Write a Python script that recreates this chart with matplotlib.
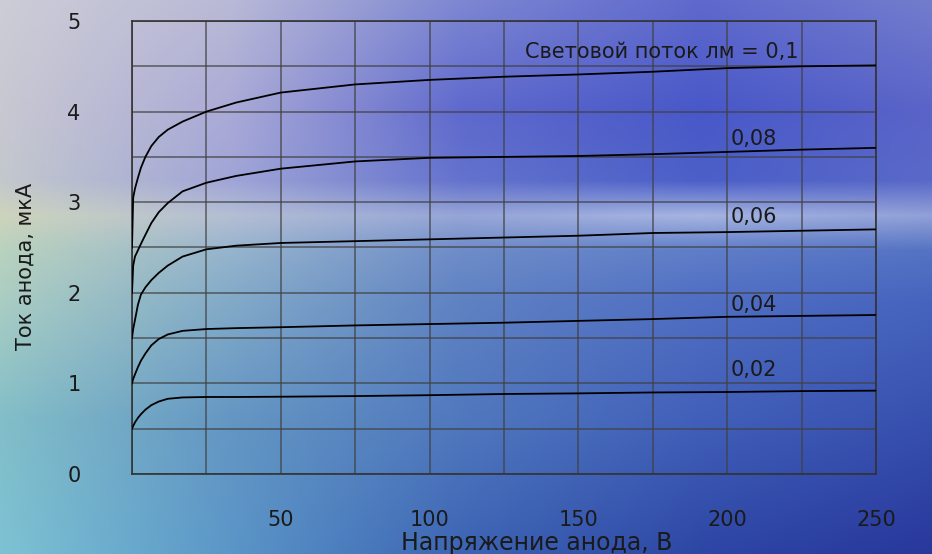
import numpy as np
import matplotlib
matplotlib.use("Agg")
import matplotlib.pyplot as plt

# anode voltage, V
voltage = [0, 0.4, 1, 2, 3, 4.5, 6.5, 9, 12, 17, 25, 35, 50, 75, 100, 125, 150, 175, 200, 225, 250]

# anode current, uA, for each luminous flux
current_010 = [2.5, 3.05, 3.15, 3.27, 3.38, 3.50, 3.62, 3.72, 3.80, 3.89, 4.00, 4.10, 4.21, 4.30,
               4.35, 4.385, 4.41, 4.44, 4.48, 4.50, 4.51]
current_008 = [2.0, 2.30, 2.40, 2.47, 2.54, 2.64, 2.77, 2.89, 2.99, 3.12, 3.215, 3.29, 3.37, 3.45,
               3.49, 3.50, 3.51, 3.53, 3.555, 3.58, 3.60]
current_006 = [1.5, 1.60, 1.70, 1.87, 1.98, 2.06, 2.14, 2.22, 2.30, 2.40, 2.48, 2.52, 2.55, 2.57,
               2.59, 2.61, 2.63, 2.66, 2.67, 2.685, 2.70]
current_004 = [1.0, 1.05, 1.10, 1.18, 1.25, 1.33, 1.42, 1.49, 1.54, 1.58, 1.60, 1.61, 1.62, 1.64,
               1.655, 1.67, 1.69, 1.71, 1.735, 1.745, 1.755]
current_002 = [0.5, 0.53, 0.57, 0.62, 0.66, 0.71, 0.76, 0.80, 0.83, 0.845, 0.85, 0.85, 0.853, 0.86,
               0.87, 0.883, 0.89, 0.90, 0.905, 0.915, 0.92]

curves = [current_010, current_008, current_006, current_004, current_002]
flux_labels = ["Световой поток лм = 0,1", "0,08", "0,06", "0,04", "0,02"]
label_pos = [(178, 4.66), (201, 3.70), (201, 2.84), (201, 1.865), (201, 1.148)]

x_ticks = [50, 100, 150, 200, 250]
y_ticks = [0, 1, 2, 3, 4, 5]

W, H = 932, 554
fig = plt.figure(figsize=(W / 100, H / 100), dpi=100)

# sky / sea backdrop
rows = np.array([0, 110, 180, 215, 250, 300, 420, 554])
cols = np.array([0, 230, 460, 700, 932])
anchors = np.array([
    [(205, 205, 215), (185, 185, 215), (125, 135, 210), (95, 105, 205), (115, 125, 205)],
    [(200, 200, 210), (170, 170, 215), (95, 105, 205), (72, 88, 200), (90, 100, 200)],
    [(195, 200, 205), (160, 165, 215), (100, 115, 205), (75, 95, 200), (90, 105, 200)],
    [(205, 212, 188), (180, 190, 212), (150, 165, 215), (165, 180, 225), (145, 160, 215)],
    [(185, 210, 190), (150, 180, 205), (110, 140, 200), (95, 125, 200), (85, 115, 195)],
    [(170, 205, 195), (130, 170, 200), (95, 130, 195), (80, 110, 195), (70, 100, 190)],
    [(130, 190, 200), (100, 150, 195), (80, 120, 190), (65, 95, 185), (55, 80, 175)],
    [(125, 195, 212), (90, 150, 200), (60, 100, 180), (45, 70, 165), (40, 55, 155)],
], dtype=float) / 255.0
yy = np.arange(H)
xx = np.arange(W)
tmp = np.empty((H, len(cols), 3))
for j in range(len(cols)):
    for c in range(3):
        tmp[:, j, c] = np.interp(yy, rows, anchors[:, j, c])
bg = np.empty((H, W, 3))
for i in range(H):
    for c in range(3):
        bg[i, :, c] = np.interp(xx, cols, tmp[i, :, c])
bg_ax = fig.add_axes([0, 0, 1, 1], zorder=-1)
bg_ax.imshow(bg, aspect="auto", extent=[0, 1, 0, 1], interpolation="bilinear")
bg_ax.axis("off")

ax = fig.add_axes([132 / W, 1 - 474 / H, (876 - 132) / W, (474 - 21) / H])
ax.set_facecolor("none")

for vals in curves:
    ax.plot(voltage, vals, color="black", lw=1.3, zorder=3)

for text, (tx, ty) in zip(flux_labels, label_pos):
    ha = "center" if text.startswith("С") else "left"
    ax.text(tx, ty, text, ha=ha, va="center", fontsize=15, color="#1a1a1a", zorder=4)

ax.set_xlim(0, 250)
ax.set_ylim(0, 5)
ax.set_xticks(x_ticks)
ax.set_xticklabels([str(v) for v in x_ticks])
ax.set_xticks(np.arange(0, 251, 25), minor=True)
ax.set_yticks(y_ticks)
ax.set_yticklabels([str(v) for v in y_ticks])
ax.set_yticks(np.arange(0, 5.01, 0.5), minor=True)
ax.grid(True, which="both", color="#404040", lw=1.1, alpha=0.8)
ax.tick_params(which="both", length=0, labelsize=15, labelcolor="#1a1a1a")
ax.tick_params(axis="x", pad=26)
ax.tick_params(axis="y", pad=37)
for s in ax.spines.values():
    s.set_color("#333333")
    s.set_linewidth(1.2)

ax.set_xlabel("Напряжение анода, В", fontsize=17, color="#1a1a1a")
ax.xaxis.set_label_coords(0.544, -0.126)
ax.set_ylabel("Ток анода, мкА", fontsize=15, color="#1a1a1a",
              family=["Liberation Sans Narrow", "DejaVu Sans"])
ax.yaxis.set_label_coords(-0.129, 0.459)

fig.savefig("out.png", dpi=100)
